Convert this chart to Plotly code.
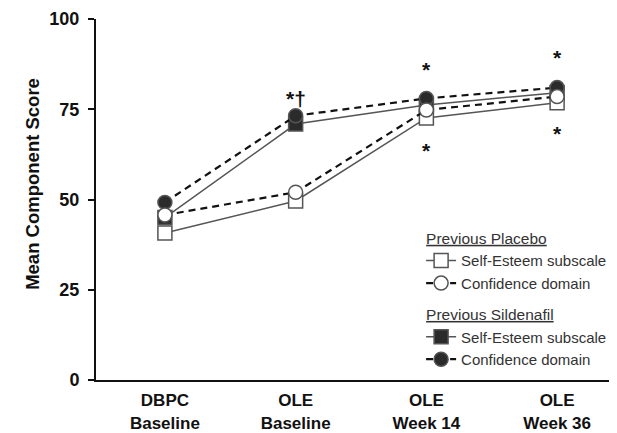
import plotly.graph_objects as go

categories = ["DBPC<br>Baseline", "OLE<br>Baseline", "OLE<br>Week 14", "OLE<br>Week 36"]
placebo_self_esteem = [40.7, 49.6, 72.6, 76.8]
placebo_confidence = [45.7, 52.0, 74.8, 78.5]
sildenafil_self_esteem = [45.0, 70.9, 76.2, 79.6]
sildenafil_confidence = [49.2, 73.2, 78.0, 81.0]
y_ticks = [0, 25, 50, 75, 100]

# significance markers: (category index, y value, text)
sig_marks = [(1, 78.0, "*†"), (2, 86.0, "*"), (2, 63.5, "*"), (3, 89.4, "*"), (3, 68.2, "*")]

FONT = "Arial, Liberation Sans, sans-serif"
fig = go.Figure()

ul = lambda s: '<span style="text-decoration:underline">' + s + '</span>'

def add(name, y, symbol, fill, dash, lcolor, lwidth, group, title, rank):
    fig.add_trace(go.Scatter(
        x=categories, y=y, mode="lines+markers", name=name,
        line=dict(color=lcolor, width=lwidth, dash=dash),
        marker=dict(symbol=symbol, size=14, color=fill,
                    line=dict(color="#555555", width=1.5)),
        legendgroup=group, legendrank=rank,
        legendgrouptitle=dict(text=ul(title), font=dict(size=15.5, color="#333333", family=FONT)),
    ))

add("Self-Esteem subscale", sildenafil_self_esteem, "square", "#2b2b2b", "solid", "#555555", 1.5, "s", "Previous Sildenafil", 3)
add("Confidence domain", sildenafil_confidence, "circle", "#2b2b2b", "7px,5px", "#111111", 2.2, "s", "Previous Sildenafil", 4)
add("Self-Esteem subscale", placebo_self_esteem, "square", "#ffffff", "solid", "#555555", 1.5, "p", "Previous Placebo", 1)
add("Confidence domain", placebo_confidence, "circle", "#ffffff", "7px,5px", "#111111", 2.2, "p", "Previous Placebo", 2)

annotations = []
for idx, yv, txt in sig_marks:
    annotations.append(dict(x=categories[idx], y=yv, text="<b>" + txt + "</b>", showarrow=False,
                            font=dict(size=21, color="#111111", family=FONT),
                            xref="x", yref="y"))
annotations.append(dict(x=0, xref="paper", xshift=-76, y=54.2, yref="y",
                        text="<b>Mean Component Score</b>", textangle=-90,
                        showarrow=False, font=dict(size=18.5, color="#111111", family=FONT)))

fig.update_layout(
    width=609, height=425,
    margin=dict(l=88, r=0, t=11, b=53),
    paper_bgcolor="white", plot_bgcolor="white",
    font=dict(family=FONT, color="#111111"),
    showlegend=True,
    legend=dict(x=0.624, y=0.44, xanchor="left", yanchor="top",
                traceorder="grouped", tracegroupgap=8,
                font=dict(size=15, color="#333333", family=FONT),
                bgcolor="rgba(0,0,0,0)", itemwidth=30),
    annotations=annotations,
)
fig.update_xaxes(type="category", range=[-0.527, 3.458], automargin=False,
                 showline=True, linecolor="#111111", linewidth=2,
                 ticks="", showgrid=False, zeroline=False,
                 tickfont=dict(size=17, color="#111111", family=FONT),
                 ticklabelstandoff=4,
                 tickvals=categories,
                 ticktext=["<b>" + c + "</b>" for c in categories])
fig.update_yaxes(range=[0, 100], tickvals=y_ticks, automargin=False,
                 ticktext=["<b>%d</b>" % v for v in y_ticks],
                 showline=True, linecolor="#111111", linewidth=2,
                 ticks="outside", ticklen=6, tickwidth=2, tickcolor="#111111",
                 ticklabelstandoff=5,
                 showgrid=False, zeroline=False,
                 tickfont=dict(size=18, color="#111111", family=FONT))

fig.write_html("out.html")
